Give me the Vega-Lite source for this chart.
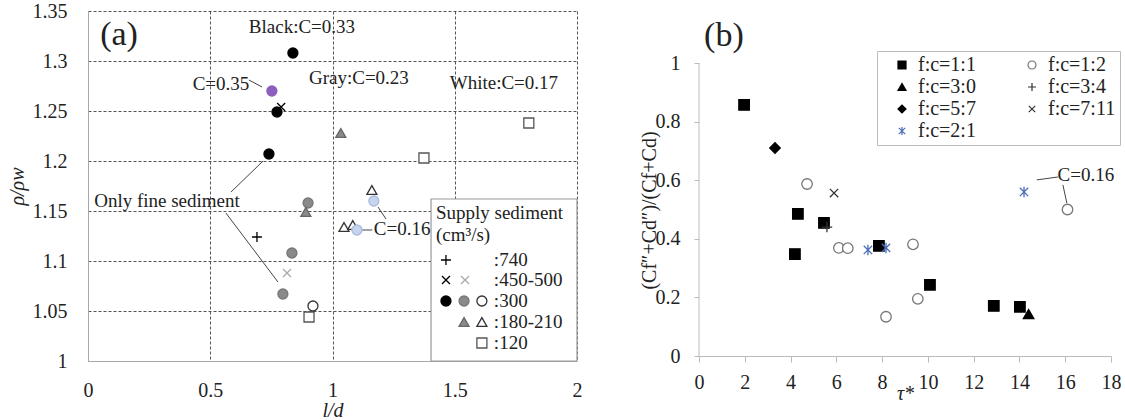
{
  "$schema": "https://vega.github.io/schema/vega-lite/v6.json",
  "padding": {"left": 7, "top": 1, "right": 0, "bottom": 0},
  "spacing": 57,
  "resolve": {"scale": {"shape": "independent", "fill": "independent", "stroke": "independent", "color": "independent"}, "legend": {"shape": "independent", "fill": "independent", "stroke": "independent", "color": "independent"}},
  "config": {
    "font": "Liberation Serif",
    "view": {"stroke": null},
    "style": {
      "guide-label": {"font": "Liberation Serif", "fontSize": 20, "fill": "#222"},
      "guide-title": {"font": "Liberation Serif", "fontSize": 20, "fontWeight": "normal", "fill": "#222"}
    },
    "axis": {
      "labelFont": "Liberation Serif", "labelFontSize": 20, "labelColor": "#222",
      "titleFont": "Liberation Serif", "titleFontSize": 20, "titleFontWeight": "normal", "titleColor": "#222",
      "labelFlush": false, "labelOverlap": false
    },
    "legend": {"labelFont": "Liberation Serif", "labelFontSize": 20, "labelColor": "#222"},
    "text": {"font": "Liberation Serif", "fontSize": 19, "color": "#222"}
  },
  "datasets": {
    "a_pts": [
      {"ld": 0.904, "rho": 1.044, "s": "white_square"},
      {"ld": 1.374, "rho": 1.203, "s": "white_square"},
      {"ld": 1.803, "rho": 1.238, "s": "white_square"},
      {"ld": 0.92, "rho": 1.055, "s": "white_circle"},
      {"ld": 0.90, "rho": 1.158, "s": "gray_circle"},
      {"ld": 0.834, "rho": 1.108, "s": "gray_circle"},
      {"ld": 0.797, "rho": 1.067, "s": "gray_circle"},
      {"ld": 1.034, "rho": 1.228, "s": "gray_triangle"},
      {"ld": 0.891, "rho": 1.149, "s": "gray_triangle"},
      {"ld": 1.161, "rho": 1.171, "s": "white_triangle"},
      {"ld": 1.047, "rho": 1.134, "s": "white_triangle"},
      {"ld": 1.083, "rho": 1.136, "s": "white_triangle"},
      {"ld": 1.169, "rho": 1.16, "s": "lightblue_circle"},
      {"ld": 1.1, "rho": 1.131, "s": "lightblue_circle"},
      {"ld": 0.814, "rho": 1.088, "s": "gray_x"},
      {"ld": 0.691, "rho": 1.124, "s": "black_plus"},
      {"ld": 0.79, "rho": 1.254, "s": "black_x"},
      {"ld": 0.838, "rho": 1.308, "s": "black_circle"},
      {"ld": 0.773, "rho": 1.249, "s": "black_circle"},
      {"ld": 0.74, "rho": 1.207, "s": "black_circle"},
      {"ld": 0.752, "rho": 1.27, "s": "purple_circle"}
    ],
    "a_legend_symbols": [
      {"ld": 1.464, "rho": 1.101, "s": "black_plus"},
      {"ld": 1.464, "rho": 1.081, "s": "black_x"},
      {"ld": 1.542, "rho": 1.081, "s": "gray_x"},
      {"ld": 1.464, "rho": 1.06, "s": "black_circle"},
      {"ld": 1.538, "rho": 1.06, "s": "gray_circle"},
      {"ld": 1.611, "rho": 1.06, "s": "white_circle"},
      {"ld": 1.538, "rho": 1.039, "s": "gray_triangle"},
      {"ld": 1.611, "rho": 1.039, "s": "white_triangle"},
      {"ld": 1.611, "rho": 1.018, "s": "white_square"}
    ],
    "a_notes": [
      {"x": 0.875, "y": 1.334, "t": "Black:C=0.33"},
      {"x": 0.544, "y": 1.277, "t": "C=0.35"},
      {"x": 1.108, "y": 1.283, "t": "Gray:C=0.23"},
      {"x": 1.701, "y": 1.278, "t": "White:C=0.17"},
      {"x": 0.323, "y": 1.16, "t": "Only fine sediment"},
      {"x": 1.285, "y": 1.132, "t": "C=0.16"}
    ],
    "a_legend_text": [
      {"x": 1.423, "y": 1.148, "t": "Supply sediment"},
      {"x": 1.423, "y": 1.126, "t": "(cm³/s)"},
      {"x": 1.66, "y": 1.101, "t": ":740"},
      {"x": 1.66, "y": 1.081, "t": ":450-500"},
      {"x": 1.66, "y": 1.06, "t": ":300"},
      {"x": 1.66, "y": 1.039, "t": ":180-210"},
      {"x": 1.66, "y": 1.018, "t": ":120"}
    ],
    "a_leaders": [
      {"x": 0.658, "y": 1.281, "x2": 0.712, "y2": 1.274},
      {"x": 0.585, "y": 1.169, "x2": 0.716, "y2": 1.2},
      {"x": 0.564, "y": 1.148, "x2": 0.777, "y2": 1.079},
      {"x": 1.186, "y": 1.154, "x2": 1.219, "y2": 1.142},
      {"x": 1.12, "y": 1.131, "x2": 1.163, "y2": 1.131}
    ],
    "a_box": [{"x": 1.403, "x2": 2.0, "y": 1.0, "y2": 1.162}],
    "b_pts": [
      {"tau": 1.97, "r": 0.857, "g": "f:c=1:1"},
      {"tau": 4.32, "r": 0.485, "g": "f:c=1:1"},
      {"tau": 5.46, "r": 0.454, "g": "f:c=1:1"},
      {"tau": 4.19, "r": 0.348, "g": "f:c=1:1"},
      {"tau": 7.86, "r": 0.376, "g": "f:c=1:1"},
      {"tau": 10.09, "r": 0.243, "g": "f:c=1:1"},
      {"tau": 12.88, "r": 0.171, "g": "f:c=1:1"},
      {"tau": 14.02, "r": 0.168, "g": "f:c=1:1"},
      {"tau": 4.72, "r": 0.587, "g": "f:c=1:2"},
      {"tau": 6.11, "r": 0.369, "g": "f:c=1:2"},
      {"tau": 6.5, "r": 0.368, "g": "f:c=1:2"},
      {"tau": 8.17, "r": 0.134, "g": "f:c=1:2"},
      {"tau": 9.35, "r": 0.381, "g": "f:c=1:2"},
      {"tau": 9.56, "r": 0.195, "g": "f:c=1:2"},
      {"tau": 16.1, "r": 0.5, "g": "f:c=1:2"},
      {"tau": 14.4, "r": 0.143, "g": "f:c=3:0"},
      {"tau": 5.59, "r": 0.44, "g": "f:c=3:4"},
      {"tau": 3.32, "r": 0.71, "g": "f:c=5:7"},
      {"tau": 5.9, "r": 0.556, "g": "f:c=7:11"},
      {"tau": 7.38, "r": 0.362, "g": "f:c=2:1"},
      {"tau": 8.17, "r": 0.369, "g": "f:c=2:1"},
      {"tau": 14.2, "r": 0.56, "g": "f:c=2:1"}
    ],
    "b_rules": [
      {"x": 0, "y": 0, "x2": 0, "y2": 1, "k": "axis"},
      {"x": 14.76, "y": 0.601, "x2": 15.68, "y2": 0.611, "k": "leader"},
      {"x": 15.9, "y": 0.584, "x2": 16.07, "y2": 0.522, "k": "leader"}
    ]
  },
  "hconcat": [
    {
      "width": 489,
      "height": 350,
      "encoding": {
        "x": {"type": "quantitative", "scale": {"domain": [0, 2], "nice": false, "zero": false},
          "axis": {"title": "l/d", "titleFontStyle": "italic", "values": [0, 0.5, 1, 1.5, 2], "format": "~g",
            "labelFont": "Liberation Serif", "titleFont": "Liberation Serif",
            "grid": true, "gridColor": "#555", "gridDash": [3, 2], "ticks": false, "tickSize": 0,
            "domainColor": "#a8a8a8", "labelPadding": 19, "titleY": 39}},
        "y": {"type": "quantitative", "scale": {"domain": [1, 1.35], "nice": false, "zero": false},
          "axis": {"title": "ρ/ρw", "titleFontStyle": "italic", "values": [1, 1.05, 1.1, 1.15, 1.2, 1.25, 1.3, 1.35], "format": "~g",
            "labelFont": "Liberation Serif", "titleFont": "Liberation Serif",
            "grid": true, "gridColor": "#555", "gridDash": [3, 2], "ticks": false, "tickSize": 0,
            "domainColor": "#a8a8a8", "labelPadding": 21, "titleX": -61}}
      },
      "layer": [
        {
          "data": {"name": "a_box"},
          "mark": {"type": "rect", "fill": "white", "stroke": "#999", "strokeWidth": 1.2},
          "encoding": {"x": {"field": "x"}, "x2": {"field": "x2"}, "y": {"field": "y"}, "y2": {"field": "y2"}}
        },
        {
          "data": {"name": "a_leaders"},
          "mark": {"type": "rule", "color": "#444", "strokeWidth": 1},
          "encoding": {"x": {"field": "x"}, "x2": {"field": "x2"}, "y": {"field": "y"}, "y2": {"field": "y2"}}
        },
        {
          "data": {"name": "a_pts"},
          "mark": {"type": "point", "filled": false, "size": 100, "strokeWidth": 1.3, "opacity": 1},
          "encoding": {
            "x": {"field": "ld"}, "y": {"field": "rho"},
            "shape": {"field": "s", "type": "nominal", "legend": null, "scale": {
              "domain": ["white_square", "white_circle", "gray_circle", "gray_triangle", "white_triangle", "lightblue_circle", "gray_x", "black_plus", "black_x", "black_circle", "purple_circle"],
              "range": ["square", "circle", "circle", "triangle-up", "triangle-up", "circle", "M-0.8,-0.8L0.8,0.8M-0.8,0.8L0.8,-0.8", "M-1,0H1M0,-1V1", "M-0.8,-0.8L0.8,0.8M-0.8,0.8L0.8,-0.8", "circle", "circle"]}},
            "fill": {"field": "s", "type": "nominal", "legend": null, "scale": {
              "domain": ["white_square", "white_circle", "gray_circle", "gray_triangle", "white_triangle", "lightblue_circle", "gray_x", "black_plus", "black_x", "black_circle", "purple_circle"],
              "range": ["white", "white", "#8a8a8a", "#8a8a8a", "white", "#c6d4ee", "transparent", "transparent", "transparent", "black", "#8c5fbf"]}},
            "stroke": {"field": "s", "type": "nominal", "legend": null, "scale": {
              "domain": ["white_square", "white_circle", "gray_circle", "gray_triangle", "white_triangle", "lightblue_circle", "gray_x", "black_plus", "black_x", "black_circle", "purple_circle"],
              "range": ["#555", "#333", "#777", "#666", "#333", "#a8bce0", "#aaa", "#000", "#000", "#000", "#8c5fbf"]}}
          }
        },
        {
          "data": {"name": "a_legend_symbols"},
          "mark": {"type": "point", "filled": false, "size": 100, "strokeWidth": 1.3, "opacity": 1},
          "encoding": {
            "x": {"field": "ld"}, "y": {"field": "rho"},
            "shape": {"field": "s", "type": "nominal", "legend": null},
            "fill": {"field": "s", "type": "nominal", "legend": null},
            "stroke": {"field": "s", "type": "nominal", "legend": null}
          }
        },
        {
          "data": {"name": "a_notes"},
          "mark": {"type": "text", "align": "center", "baseline": "middle", "fontSize": 19},
          "encoding": {"x": {"field": "x"}, "y": {"field": "y"}, "text": {"field": "t"}}
        },
        {
          "data": {"name": "a_legend_text"},
          "mark": {"type": "text", "align": "left", "baseline": "middle", "fontSize": 19},
          "encoding": {"x": {"field": "x"}, "y": {"field": "y"}, "text": {"field": "t"}}
        },
        {
          "data": {"values": [{"x": 0.127, "y": 1.326, "t": "(a)"}]},
          "mark": {"type": "text", "align": "center", "baseline": "middle", "fontSize": 34},
          "encoding": {"x": {"field": "x"}, "y": {"field": "y"}, "text": {"field": "t"}}
        }
      ]
    },
    {
      "width": 412,
      "height": 345,
      "encoding": {
        "x": {"type": "quantitative", "scale": {"domain": [0, 18], "nice": false, "zero": false},
          "axis": {"title": "τ*", "titleFontStyle": "italic", "values": [0, 2, 4, 6, 8, 10, 12, 14, 16, 18], "format": "~g",
            "labelFont": "Liberation Serif", "titleFont": "Liberation Serif",
            "grid": false, "ticks": true, "tickSize": 6, "tickColor": "#bbb", "domainColor": "#bbb", "labelPadding": 10, "titleY": 27}},
        "y": {"type": "quantitative", "scale": {"domain": [0, 1.1775], "nice": false, "zero": false},
          "axis": {"title": "(Cf″+Cd″)/(Cf+Cd)", "values": [0, 0.2, 0.4, 0.6, 0.8, 1], "format": "~g",
            "labelFont": "Liberation Serif", "titleFont": "Liberation Serif",
            "grid": false, "ticks": true, "tickSize": 5, "tickColor": "#bbb", "domain": false, "labelPadding": 14,
            "titleX": -40, "titleY": 199}}
      },
      "layer": [
        {
          "data": {"name": "b_rules"},
          "mark": {"type": "rule", "strokeWidth": 1},
          "encoding": {"x": {"field": "x"}, "x2": {"field": "x2"}, "y": {"field": "y"}, "y2": {"field": "y2"},
            "color": {"field": "k", "type": "nominal", "legend": null, "scale": {"domain": ["axis", "leader"], "range": ["#bbb", "#444"]}}}
        },
        {
          "data": {"name": "b_pts"},
          "mark": {"type": "point", "filled": false, "size": 110, "strokeWidth": 1.3, "opacity": 1},
          "encoding": {
            "x": {"field": "tau"}, "y": {"field": "r"},
            "shape": {"field": "g", "type": "nominal", "scale": {
              "domain": ["f:c=1:1", "f:c=1:2", "f:c=3:0", "f:c=3:4", "f:c=5:7", "f:c=7:11", "f:c=2:1"],
              "range": ["square", "circle", "triangle-up", "M-1,0H1M0,-1V1", "diamond", "M-0.8,-0.8L0.8,0.8M-0.8,0.8L0.8,-0.8", "M-0.8,-0.8L0.8,0.8M-0.8,0.8L0.8,-0.8M0,-1V1"]},
              "legend": {"title": null, "orient": "none", "legendX": 178, "legendY": 40, "columns": 2, "direction": "horizontal",
                "strokeColor": "#bbb", "fillColor": "white", "padding": 4, "symbolOffset": 11, "labelFont": "Liberation Serif", "labelFontSize": 20,
                "labelColor": "#222", "symbolSize": 64, "symbolStrokeWidth": 1.2, "rowPadding": 2, "columnPadding": 35, "labelOffset": 6}},
            "fill": {"field": "g", "type": "nominal", "scale": {
              "domain": ["f:c=1:1", "f:c=1:2", "f:c=3:0", "f:c=3:4", "f:c=5:7", "f:c=7:11", "f:c=2:1"],
              "range": ["black", "white", "black", "transparent", "black", "transparent", "transparent"]},
              "legend": {"title": null, "orient": "none", "legendX": 178, "legendY": 40, "columns": 2, "direction": "horizontal",
                "strokeColor": "#bbb", "fillColor": "white", "padding": 4, "symbolOffset": 11, "labelFont": "Liberation Serif", "labelFontSize": 20,
                "labelColor": "#222", "symbolSize": 64, "symbolStrokeWidth": 1.2, "rowPadding": 2, "columnPadding": 35, "labelOffset": 6}},
            "stroke": {"field": "g", "type": "nominal", "scale": {
              "domain": ["f:c=1:1", "f:c=1:2", "f:c=3:0", "f:c=3:4", "f:c=5:7", "f:c=7:11", "f:c=2:1"],
              "range": ["black", "#777", "black", "#333", "black", "#333", "#4a6fb5"]},
              "legend": {"title": null, "orient": "none", "legendX": 178, "legendY": 40, "columns": 2, "direction": "horizontal",
                "strokeColor": "#bbb", "fillColor": "white", "padding": 4, "symbolOffset": 11, "labelFont": "Liberation Serif", "labelFontSize": 20,
                "labelColor": "#222", "symbolSize": 64, "symbolStrokeWidth": 1.2, "rowPadding": 2, "columnPadding": 35, "labelOffset": 6}}
          }
        },
        {
          "data": {"values": [{"x": 16.9, "y": 0.618, "t": "C=0.16"}]},
          "mark": {"type": "text", "align": "center", "baseline": "middle", "fontSize": 19},
          "encoding": {"x": {"field": "x"}, "y": {"field": "y"}, "text": {"field": "t"}}
        },
        {
          "data": {"values": [{"x": 1.09, "y": 1.092, "t": "(b)"}]},
          "mark": {"type": "text", "align": "center", "baseline": "middle", "fontSize": 34},
          "encoding": {"x": {"field": "x"}, "y": {"field": "y"}, "text": {"field": "t"}}
        }
      ]
    }
  ]
}
